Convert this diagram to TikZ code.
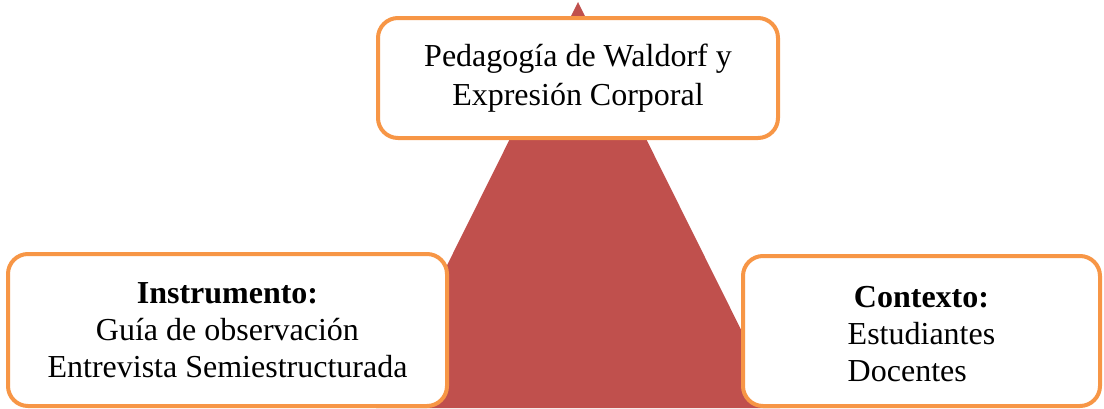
\documentclass[tikz,border=0pt]{standalone}
\usepackage{fontspec}
\setmainfont{Liberation Serif}
\definecolor{boxorange}{HTML}{F79646}
\definecolor{trired}{HTML}{C0504D}
\begin{document}
\begin{tikzpicture}[x=1pt,y=-1pt,
  card/.style={draw=boxorange,line width=4pt,fill=white,rounded corners=20pt,
    font=\fontsize{32}{37}\selectfont,align=center,inner sep=0pt}]
\useasboundingbox (0,0) rectangle (1104,408);
\coordinate (apex) at (578,2);
\coordinate (bl) at (376,408);
\coordinate (br) at (780,408);
\fill[trired] (apex) -- (bl) -- (br) -- cycle;
\node[card,minimum width=400pt,minimum height=120pt,font=\fontsize{32}{39}\selectfont] (top) at (578,78)
  {Pedagogía de Waldorf y\\Expresión Corporal};
\node[card,minimum width=439pt,minimum height=152pt] (left) at (227.5,330)
  {\textbf{Instrumento:}\\Guía de observación\\Entrevista Semiestructurada};
\node[card,minimum width=357pt,minimum height=150pt] (right) at (921.5,331)
  {\rule{0pt}{38pt}\textbf{Contexto:}\\\begin{tabular}[t]{@{}l@{}}Estudiantes\\Docentes\end{tabular}};
\end{tikzpicture}
\end{document}
